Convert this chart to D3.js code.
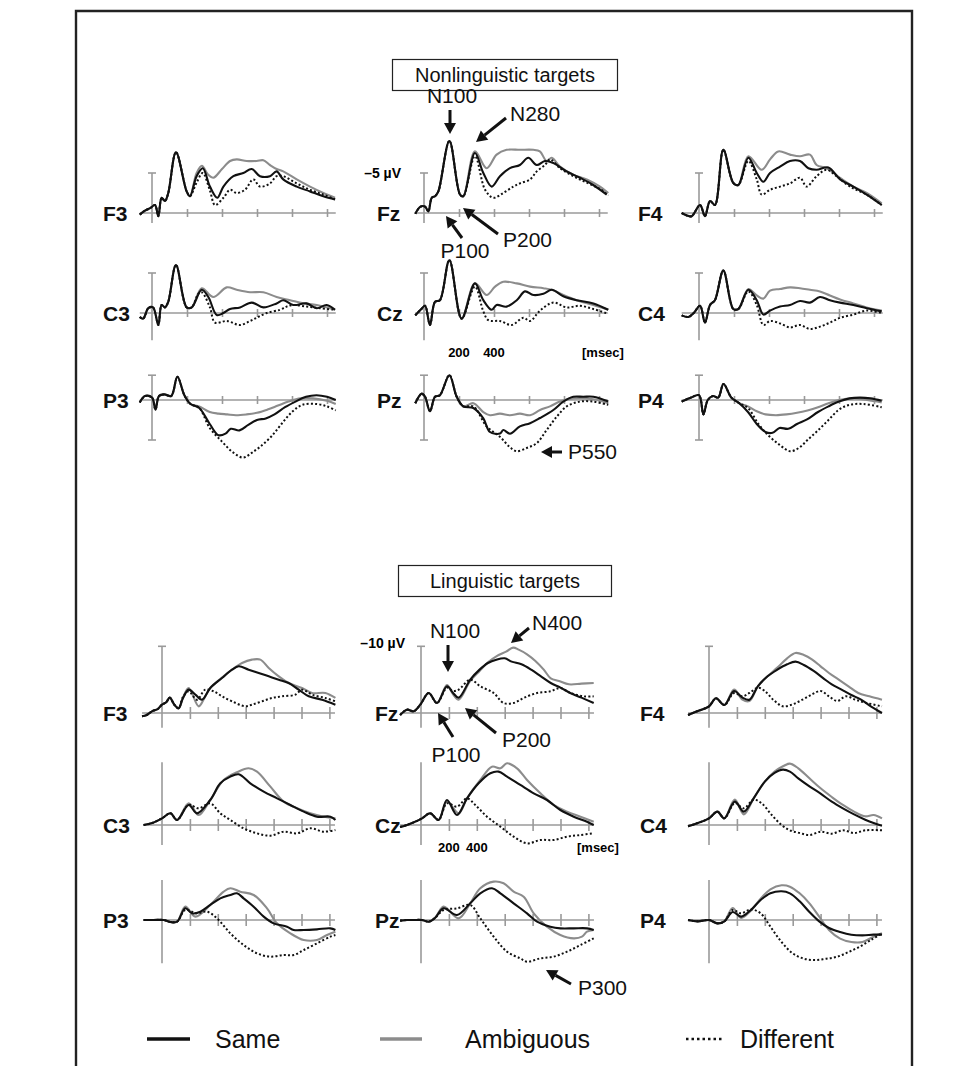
<!DOCTYPE html>
<html><head><meta charset="utf-8">
<script src="https://cdn.jsdelivr.net/npm/d3@7/dist/d3.min.js"></script>
<style>body{margin:0;background:#fff}svg{display:block}text{font-family:"Liberation Sans",Arial,sans-serif}</style>
</head><body>
<svg id="chart" width="976" height="1066"></svg>
<script>
// ---------------- DATA ----------------
const conditions = ["Same", "Ambiguous", "Different"];
const electrodeRows = [["F3", "Fz", "F4"], ["C3", "Cz", "C4"], ["P3", "Pz", "P4"]];
const panelTitles = ["Nonlinguistic targets", "Linguistic targets"];
const timeTicksTop = [200, 400, 600, 800, 1000];
const timeTicksBottom = [200, 400, 600, 800, 1000, 1200];
const timeTickLabels = [200, 400];
const scaleLabels = ["\u20135 \u00b5V", "\u201310 \u00b5V"];

// Nonlinguistic targets: [ms, µV] (negative up)
const nlF3Early = [[-70,0.2],[-40,-0.3],[-11,-0.6],[17,-1.0],[36,0.4],[55,-1.9],[74,-1.5],[93,-2.5],[137,-7.6],[198,-2.7],[217,-2.1]];
const nlF3Same = [[255,-4.6],[290,-5.6],[331,-3.3],[373,-1.9],[408,-3.3],[465,-4.6],[522,-5.0],[570,-5.5],[617,-4.6],[674,-4.6],[712,-5.2],[750,-4.2],[827,-3.3],[903,-2.7],[979,-2.1],[1046,-1.7]];
const nlF3Amb = [[255,-5.0],[285,-5.9],[320,-4.8],[350,-4.4],[400,-5.5],[446,-6.5],[484,-6.7],[541,-6.5],[598,-6.5],[636,-6.6],[674,-6.0],[712,-5.5],[750,-5.2],[827,-4.2],[903,-3.3],[979,-2.5],[1046,-1.9]];
const nlF3Diff = [[255,-3.8],[290,-5.0],[331,-2.8],[360,-1.0],[408,-1.9],[446,-2.9],[484,-2.5],[531,-2.9],[579,-4.2],[617,-3.3],[674,-3.7],[712,-4.6],[750,-4.6],[827,-3.7],[903,-2.9],[979,-2.3],[1046,-1.7]];

const nlFzEarly = [[-50,0.1],[-20,-0.8],[6,-0.8],[25,-0.2],[44,-1.9],[63,-2.1],[82,-2.7],[145,-9.0],[206,-2.3],[225,-2.1]];
const nlFzSame = [[291,-7.5],[339,-5.0],[387,-3.3],[434,-4.6],[491,-5.6],[548,-6.0],[596,-6.9],[644,-6.0],[691,-6.5],[739,-6.25],[815,-5.2],[891,-4.4],[967,-3.5],[1044,-2.3]];
const nlFzAmb = [[291,-7.7],[358,-5.6],[415,-7.3],[472,-7.9],[548,-7.9],[625,-7.9],[662,-7.7],[701,-6.5],[730,-6.9],[777,-5.8],[853,-4.8],[930,-4.2],[1006,-3.3],[1053,-2.5]];
const nlFzDiff = [[291,-7.1],[349,-2.9],[396,-1.9],[453,-2.5],[510,-3.3],[548,-3.7],[606,-4.2],[644,-5.2],[691,-6.0],[720,-6.7],[777,-5.6],[853,-4.6],[930,-3.8],[1006,-3.0],[1053,-2.2]];

const nlF4Early = [[-99,0],[-70,0.3],[-42,0.4],[6,-1.0],[34,0.4],[63,-1.5],[91,-1.0],[139,-7.9],[196,-3.75],[225,-3.5]];
const nlF4Same = [[282,-6.9],[330,-5.0],[368,-3.9],[406,-5.0],[463,-5.8],[520,-6.5],[577,-6.5],[625,-5.6],[672,-5.4],[739,-5.7],[806,-4.2],[882,-3.3],[958,-2.3],[1044,-1.0]];
const nlF4Amb = [[282,-7.1],[358,-5.4],[406,-6.7],[453,-7.7],[520,-7.3],[577,-7.1],[634,-7.3],[672,-6.0],[729,-5.6],[806,-4.4],[882,-3.3],[958,-2.5],[1044,-1.2]];
const nlF4Diff = [[282,-6.5],[330,-4.2],[358,-2.3],[406,-2.9],[463,-3.3],[520,-3.7],[577,-4.4],[615,-3.3],[672,-4.6],[729,-5.4],[786,-4.6],[863,-3.3],[958,-2.3],[1044,-1.0]];

const nlC3Early = [[-70,0.5],[-50,0.7],[-21,-0.6],[6,-0.7],[36,1.5],[55,-1.0],[74,-0.7],[93,-1.4],[137,-6.0],[198,-0.7],[227,-0.7]];
const nlC3Same = [[284,-2.9],[322,-2.0],[370,0.25],[408,0.0],[446,-0.5],[503,-0.7],[570,-1.3],[636,-0.7],[712,-1.2],[750,-1.6],[807,-1.0],[883,-1.2],[941,-0.6],[998,-1.0],[1046,-0.4]];
const nlC3Amb = [[284,-3.1],[350,-2.0],[427,-3.2],[484,-2.9],[560,-2.6],[636,-2.6],[712,-2.0],[789,-1.6],[865,-1.2],[941,-1.0],[1046,-0.4]];
const nlC3Diff = [[265,-2.4],[284,-2.6],[331,-0.7],[360,1.2],[427,1.0],[503,1.5],[560,1.0],[598,0.6],[655,0.0],[731,-0.4],[769,-0.8],[807,-1.0],[883,-0.8],[960,-0.6],[1046,-0.4]];

const nlCzEarly = [[-50,0.3],[-15,-0.5],[6,-0.9],[34,1.5],[63,-1.4],[91,-1.6],[145,-6.6],[215,0.7]];
const nlCzSame = [[291,-3.7],[339,-1.6],[387,-0.4],[415,-1.0],[472,-0.8],[530,-1.6],[577,-2.7],[625,-2.25],[682,-2.4],[730,-2.9],[796,-2.1],[872,-1.6],[968,-1.2],[1053,-0.4]];
const nlCzAmb = [[291,-3.7],[358,-2.25],[406,-3.3],[453,-3.9],[530,-3.7],[606,-3.3],[682,-3.1],[730,-2.9],[796,-2.25],[872,-1.6],[968,-1.0],[1053,-0.4]];
const nlCzDiff = [[291,-3.3],[339,-0.2],[368,0.9],[434,1.0],[501,1.5],[568,0.6],[606,1.0],[663,-0.3],[739,-1.3],[815,-0.7],[891,-0.9],[968,-0.5],[1053,0.1]];

const nlC4Early = [[-99,0.3],[-60,0.5],[-30,0.0],[6,-0.9],[34,1.2],[63,-1.0],[91,-1.6],[139,-5.3],[196,-0.5],[225,-0.5]];
const nlC4Same = [[282,-2.9],[330,-1.6],[368,0.2],[406,-0.3],[463,-0.8],[520,-1.0],[577,-1.5],[634,-1.3],[691,-2.0],[748,-1.6],[806,-1.3],[882,-1.0],[958,-0.6],[1044,-0.2]];
const nlC4Amb = [[282,-3.0],[330,-2.2],[368,-1.8],[406,-2.8],[463,-3.0],[520,-3.2],[577,-3.1],[634,-2.9],[691,-2.7],[748,-2.2],[806,-1.7],[882,-1.2],[958,-0.7],[1044,-0.3]];
const nlC4Diff = [[282,-2.7],[330,-1.0],[368,1.5],[406,1.0],[463,1.3],[520,1.8],[577,1.5],[634,2.0],[691,1.7],[748,1.2],[806,0.6],[882,0.2],[958,-0.3],[1044,0.0]];

const nlP3Early = [[-70,0.3],[-40,-0.5],[0,-0.3],[20,1.2],[40,-0.5],[70,-0.7],[110,-0.5],[145,-2.9],[185,-0.6],[220,0.5]];
const nlP3Same = [[270,1.0],[330,3.0],[380,4.4],[420,4.2],[450,3.6],[500,3.8],[550,3.1],[600,2.5],[650,2.3],[700,1.8],[760,0.9],[820,0.2],[880,-0.4],[940,-0.6],[1000,-0.4],[1050,0.0]];
const nlP3Amb = [[270,0.8],[330,1.5],[380,1.7],[430,1.8],[480,1.9],[540,1.8],[600,1.6],[660,1.2],[720,0.7],[780,0.2],[850,-0.2],[920,-0.2],[1000,0.1],[1050,0.5]];
const nlP3Diff = [[270,1.0],[330,3.5],[400,5.2],[460,6.5],[520,7.2],[570,6.6],[620,5.8],[680,4.6],[740,3.0],[800,1.5],[860,0.6],[940,0.5],[1000,0.8],[1050,1.3]];

const nlPzEarly = [[-50,0.4],[-13,-0.8],[6,-0.4],[34,1.4],[63,-0.4],[91,-0.6],[145,-3.1],[187,-0.4],[225,0.8]];
const nlPzSame = [[282,1.0],[339,2.3],[377,4.0],[434,4.2],[453,3.75],[491,4.2],[548,3.3],[606,2.9],[663,2.25],[739,1.25],[796,0.2],[853,-0.4],[910,-0.4],[968,-0.4],[1053,0.2]];
const nlPzAmb = [[282,0.4],[339,1.5],[377,1.9],[434,1.7],[491,1.9],[548,1.7],[606,1.9],[663,1.25],[720,0.8],[777,0.2],[853,-0.2],[968,-0.1],[1053,0.4]];
const nlPzDiff = [[282,0.8],[358,3.3],[434,4.6],[491,5.9],[530,6.4],[587,6.0],[644,5.4],[701,3.75],[758,2.1],[815,0.8],[891,0.2],[968,0.2],[1053,0.6]];

const nlP4Early = [[-99,0.2],[-45,-0.3],[0,-0.6],[25,1.8],[50,0.0],[80,-0.5],[110,-0.3],[140,-2.0],[185,-0.3],[230,0.4]];
const nlP4Same = [[280,1.5],[330,3.0],[380,4.0],[420,4.1],[460,3.5],[510,3.6],[560,3.0],[620,2.4],[680,1.5],[740,0.8],[800,0.2],[860,-0.2],[920,-0.3],[980,-0.2],[1044,0.1]];
const nlP4Amb = [[280,0.8],[330,1.4],[380,1.8],[440,1.9],[500,1.8],[560,1.6],[620,1.3],[680,0.9],[740,0.4],[800,0.0],[880,-0.2],[960,0.0],[1044,0.3]];
const nlP4Diff = [[280,1.0],[340,3.0],[400,4.5],[460,5.6],[520,6.4],[570,6.0],[620,5.0],[680,3.8],[740,2.5],[800,1.2],[860,0.6],[940,0.5],[1044,0.9]];

// Linguistic targets: [ms, µV] (negative up)
const lgF3Early = [[-143,0.5],[-110,0.3],[-72,-0.25],[-30,-0.6],[0,-1.25],[30,-1.6],[55,-2.3],[90,-1.2],[119,-0.7]];
const lgF3Same = [[150,-2.2],[191,-3.5],[239,-2.75],[287,-2.0],[346,-3.75],[430,-5.25],[502,-6.5],[550,-7.0],[621,-6.5],[693,-6.0],[765,-5.5],[837,-5.0],[908,-4.5],[980,-3.5],[1052,-2.5],[1147,-2.0],[1243,-1.25]];
const lgF3Amb = [[150,-2.3],[191,-3.75],[263,-1.0],[310,-2.5],[346,-3.75],[430,-5.3],[502,-6.5],[574,-7.5],[645,-8.0],[705,-8.0],[765,-6.75],[837,-5.5],[908,-4.5],[1004,-3.75],[1076,-3.0],[1171,-3.0],[1243,-2.25]];
const lgF3Diff = [[150,-2.4],[191,-3.25],[251,-2.0],[310,-3.5],[370,-3.25],[430,-2.5],[502,-1.75],[597,-1.0],[645,-1.25],[717,-1.75],[789,-2.25],[861,-2.5],[956,-2.75],[1004,-3.5],[1076,-2.75],[1171,-2.25],[1243,-1.75]];

const lgFzEarly = [[-150,0.3],[-100,-0.5],[-53,-0.25],[-5,-1.25],[55,-3.0],[115,-1.5]];
const lgFzSame = [[186,-4.0],[230,-3.0],[270,-2.3],[353,-5.0],[420,-6.5],[480,-7.5],[540,-8.0],[600,-8.2],[650,-7.7],[720,-7.3],[790,-6.5],[860,-5.5],[930,-4.5],[1000,-3.8],[1070,-3.0],[1150,-2.3],[1238,-1.5]];
const lgFzAmb = [[186,-4.2],[230,-2.8],[270,-2.0],[353,-4.8],[420,-6.3],[480,-7.6],[540,-8.5],[610,-9.2],[660,-9.8],[700,-9.5],[760,-8.8],[820,-7.8],[880,-6.5],[930,-5.2],[990,-4.8],[1060,-4.3],[1150,-4.4],[1238,-4.5]];
const lgFzDiff = [[186,-3.8],[230,-3.3],[270,-3.5],[353,-5.0],[425,-4.0],[521,-3.0],[592,-1.5],[664,-1.5],[736,-2.25],[832,-3.0],[927,-3.25],[999,-3.75],[1070,-3.0],[1166,-2.5],[1238,-2.5]];

const lgF4Early = [[-150,0.3],[-80,-0.3],[0,-1.0],[50,-2.2],[110,-1.2]];
const lgF4Same = [[180,-3.3],[240,-2.3],[290,-2.0],[350,-4.0],[420,-5.5],[490,-6.5],[560,-7.3],[620,-7.7],[680,-7.2],[750,-6.3],[820,-5.2],[880,-4.3],[950,-3.5],[1020,-2.7],[1090,-2.0],[1160,-1.0],[1240,0.0]];
const lgF4Amb = [[180,-3.5],[240,-2.0],[290,-1.8],[350,-4.0],[420,-5.5],[490,-6.8],[560,-8.2],[620,-9.0],[680,-8.7],[740,-8.0],[800,-7.0],[860,-6.0],[930,-5.0],[1000,-4.0],[1070,-3.0],[1150,-2.5],[1240,-2.0]];
const lgF4Diff = [[180,-3.0],[240,-2.5],[290,-3.0],[350,-3.8],[400,-3.3],[460,-2.0],[530,-1.0],[600,-1.3],[670,-2.0],[740,-2.8],[800,-3.3],[860,-2.5],[920,-1.8],[980,-2.5],[1050,-2.0],[1130,-1.5],[1240,-1.0]];

const lgC3Early = [[-132,0],[-70,-0.3],[0,-1.0],[60,-1.75],[108,-0.75]];
const lgC3Same = [[191,-3.0],[251,-1.75],[346,-3.75],[418,-6.25],[490,-7.25],[550,-7.6],[633,-6.25],[729,-5.0],[825,-4.0],[920,-3.0],[1016,-2.0],[1111,-1.25],[1207,-1.25],[1243,-0.75]];
const lgC3Amb = [[191,-3.25],[263,-1.5],[346,-3.75],[442,-6.75],[537,-7.9],[621,-8.5],[681,-8.0],[777,-5.75],[872,-3.5],[968,-2.5],[1063,-1.75],[1159,-1.25],[1243,-1.0]];
const lgC3Diff = [[191,-3.0],[263,-2.5],[346,-3.25],[418,-1.75],[490,-0.75],[585,0.5],[681,1.25],[777,1.6],[872,1.0],[968,1.25],[1063,0.5],[1159,1.0],[1243,0.75]];

const lgCzEarly = [[-150,0.3],[-100,0],[-41,-0.5],[7,-1.0],[66,-1.75],[126,-0.75]];
const lgCzSame = [[186,-3.75],[258,-1.5],[330,-4.0],[413,-6.25],[497,-7.75],[556,-8.0],[617,-7.25],[712,-6.0],[808,-4.75],[903,-3.75],[999,-2.25],[1095,-1.25],[1190,-0.5],[1238,0.0]];
const lgCzAmb = [[186,-3.5],[270,-1.75],[330,-4.0],[425,-6.75],[509,-8.75],[569,-8.5],[617,-9.25],[688,-8.5],[760,-6.75],[856,-4.75],[951,-3.0],[1047,-2.0],[1143,-1.25],[1238,-0.5]];
const lgCzDiff = [[186,-3.25],[258,-2.75],[330,-4.0],[389,-3.0],[473,-1.25],[569,0.25],[664,1.75],[760,2.75],[856,2.25],[951,2.25],[1047,1.75],[1143,1.5],[1238,1.25]];

const lgC4Early = [[-150,0.2],[-80,-0.3],[0,-1.0],[60,-2.0],[110,-1.0]];
const lgC4Same = [[185,-3.5],[250,-2.0],[320,-4.0],[400,-6.5],[470,-7.8],[530,-8.3],[580,-8.0],[640,-7.0],[720,-5.8],[800,-4.7],[880,-3.5],[960,-2.5],[1040,-1.6],[1120,-0.8],[1180,-0.3],[1240,0.1]];
const lgC4Amb = [[185,-3.8],[250,-1.6],[320,-4.0],[400,-6.5],[470,-8.0],[530,-8.8],[580,-9.2],[640,-8.5],[720,-7.0],[800,-5.5],[880,-4.2],[960,-3.0],[1040,-2.0],[1120,-1.3],[1180,-1.5],[1240,-1.0]];
const lgC4Diff = [[185,-3.3],[250,-2.5],[320,-3.8],[380,-3.2],[450,-1.5],[520,0.0],[580,0.8],[650,1.2],[720,1.5],[800,1.0],[880,1.3],[960,0.8],[1040,1.2],[1120,0.8],[1240,0.8]];

const lgP3Early = [[-132,0],[-60,0],[12,0],[60,0.3],[108,0.25]];
const lgP3Same = [[167,-1.75],[215,-1.0],[275,-1.25],[346,-2.25],[418,-3.25],[490,-3.75],[537,-4.0],[585,-3.25],[657,-2.0],[729,-0.5],[800,0.5],[896,1.0],[944,1.5],[1016,1.5],[1111,1.4],[1207,1.25],[1243,1.5]];
const lgP3Amb = [[167,-2.0],[239,-0.5],[346,-2.25],[442,-4.25],[490,-4.75],[561,-4.25],[657,-3.75],[753,-1.75],[824,0.5],[920,2.0],[1016,3.0],[1111,3.0],[1183,2.25],[1243,1.75]];
const lgP3Diff = [[167,-1.5],[251,-1.0],[322,-1.25],[394,-0.25],[490,2.0],[585,3.75],[681,5.0],[776,5.5],[872,5.25],[944,5.25],[1016,4.5],[1111,3.5],[1207,2.5],[1243,2.25]];

const lgPzEarly = [[-150,0.1],[-100,0],[-53,0],[7,0],[55,0.25],[100,-0.3]];
const lgPzSame = [[162,-1.75],[258,-0.75],[353,-2.5],[425,-4.0],[509,-4.75],[569,-4.0],[664,-2.5],[760,-1.0],[832,0.25],[927,1.0],[999,1.25],[1095,1.25],[1190,1.25],[1238,1.5]];
const lgPzAmb = [[162,-2.0],[270,-0.25],[353,-2.5],[425,-4.75],[521,-5.75],[592,-5.5],[664,-4.25],[736,-3.5],[808,-1.0],[903,1.0],[999,2.25],[1095,2.75],[1154,2.5],[1190,1.75],[1238,1.5]];
const lgPzDiff = [[162,-1.5],[258,-1.75],[353,-2.25],[425,-0.25],[521,2.5],[617,4.75],[712,5.75],[760,6.25],[856,5.75],[951,5.5],[1047,4.75],[1143,3.75],[1238,2.75]];

const lgP4Early = [[-150,0],[-80,0.2],[0,0.0],[60,0.5],[110,0.2]];
const lgP4Same = [[170,-1.2],[230,-0.5],[300,-1.5],[370,-3.0],[440,-4.0],[520,-4.3],[580,-4.0],[650,-2.8],[720,-1.2],[790,0.2],[860,1.2],[940,1.8],[1020,2.2],[1100,2.3],[1180,2.2],[1240,2.2]];
const lgP4Amb = [[170,-1.8],[230,-0.3],[300,-1.4],[370,-3.2],[440,-4.6],[520,-5.2],[580,-5.0],[650,-4.0],[720,-2.5],[790,-0.5],[860,1.5],[940,2.8],[1020,3.3],[1100,3.3],[1180,2.5],[1240,2.0]];
const lgP4Diff = [[170,-1.5],[230,-1.0],[300,-1.6],[370,-1.0],[440,1.0],[520,3.3],[600,5.0],[680,5.8],[760,6.0],[840,5.8],[920,5.5],[1000,4.8],[1080,4.0],[1160,3.0],[1240,2.0]];

// ---------------- LAYOUT ----------------
const nlSeries = {
  F3:[nlF3Early,nlF3Same,nlF3Amb,nlF3Diff], Fz:[nlFzEarly,nlFzSame,nlFzAmb,nlFzDiff], F4:[nlF4Early,nlF4Same,nlF4Amb,nlF4Diff],
  C3:[nlC3Early,nlC3Same,nlC3Amb,nlC3Diff], Cz:[nlCzEarly,nlCzSame,nlCzAmb,nlCzDiff], C4:[nlC4Early,nlC4Same,nlC4Amb,nlC4Diff],
  P3:[nlP3Early,nlP3Same,nlP3Amb,nlP3Diff], Pz:[nlPzEarly,nlPzSame,nlPzAmb,nlPzDiff], P4:[nlP4Early,nlP4Same,nlP4Amb,nlP4Diff]
};
const lgSeries = {
  F3:[lgF3Early,lgF3Same,lgF3Amb,lgF3Diff], Fz:[lgFzEarly,lgFzSame,lgFzAmb,lgFzDiff], F4:[lgF4Early,lgF4Same,lgF4Amb,lgF4Diff],
  C3:[lgC3Early,lgC3Same,lgC3Amb,lgC3Diff], Cz:[lgCzEarly,lgCzSame,lgCzAmb,lgCzDiff], C4:[lgC4Early,lgC4Same,lgC4Amb,lgC4Diff],
  P3:[lgP3Early,lgP3Same,lgP3Amb,lgP3Diff], Pz:[lgPzEarly,lgPzSame,lgPzAmb,lgPzDiff], P4:[lgP4Early,lgP4Same,lgP4Amb,lgP4Diff]
};

const layouts = [
  { series: nlSeries, axisX:[152,424,699], base:[213,313,400], labelX:[103,377,638],
    pxPerMs:0.175, pxPerUv:8, t1:1050, ticks:timeTicksTop, tickLen:4,
    bar:[[-5,1.25,true,false],[-5,3.4,true,false],[-3.1,5,true,true]] },
  { series: lgSeries, axisX:[162,421,709], base:[713,825,920], labelX:[103,375,640],
    pxPerMs:0.1395, pxPerUv:6.67, t1:1240, ticks:timeTicksBottom, tickLen:6,
    bar:[[-10,2.2,true,false],[-9.4,3,false,false],[-6,6.5,false,false]] }
];

const svg = d3.select("#chart");
const AX = "#9a9a9a";
const styles = [
  { stroke:"#111", width:2.1, dash:null },
  { stroke:"#8c8c8c", width:2.1, dash:null },
  { stroke:"#111", width:2.0, dash:"2,2.2" }
];

// frame
svg.append("path").attr("d","M76,1066 V11 H912 V1066").attr("fill","none").attr("stroke","#222").attr("stroke-width",2.4);

layouts.forEach((L) => {
  electrodeRows.forEach((row, ri) => {
    row.forEach((name, ci) => {
      const ax = L.axisX[ci], base = L.base[ri];
      const x = d3.scaleLinear().domain([0, 1000]).range([ax, ax + 1000 * L.pxPerMs]);
      const y = d3.scaleLinear().domain([0, 10]).range([base, base + 10 * L.pxPerUv]);
      const g = svg.append("g");
      const s = L.series[name];
      const early = s[0];
      const t0 = early[0][0];
      // baseline axis with ticks crossing the baseline
      const xs = d3.scaleLinear().domain([t0, L.t1]).range([x(t0), x(L.t1)]);
      const xAxis = d3.axisBottom(xs).tickValues(L.ticks).tickSize(2 * L.tickLen).tickSizeOuter(0).tickFormat("");
      const ag = g.append("g").attr("transform", `translate(0,${base - L.tickLen})`).call(xAxis);
      ag.select(".domain").attr("d", `M${xs(t0)},${L.tickLen}H${xs(L.t1)}`).attr("stroke", AX).attr("stroke-width", 1.6);
      ag.selectAll(".tick line").attr("stroke", AX).attr("stroke-width", 1.6);
      // vertical scale bar
      const [vTop, vBot, capTop, capBot] = L.bar[ri];
      g.append("line").attr("x1", x(0)).attr("x2", x(0)).attr("y1", y(vTop)).attr("y2", y(vBot)).attr("stroke", AX).attr("stroke-width", 1.6);
      if (capTop) g.append("line").attr("x1", x(0) - 4).attr("x2", x(0) + 4).attr("y1", y(vTop)).attr("y2", y(vTop)).attr("stroke", AX).attr("stroke-width", 1.6);
      if (capBot) g.append("line").attr("x1", x(0) - 4).attr("x2", x(0) + 4).attr("y1", y(vBot)).attr("y2", y(vBot)).attr("stroke", AX).attr("stroke-width", 1.6);
      // waveforms: ambiguous, then different, then same on top
      const line = d3.line().x(d => x(d[0])).y(d => y(d[1])).curve(d3.curveCatmullRom.alpha(0.5));
      [1, 2, 0].forEach(k => {
        const data = early.concat(s[k + 1]);
        const st = styles[k];
        const p = g.append("path").datum(data).attr("d", line).attr("fill", "none")
          .attr("stroke", st.stroke).attr("stroke-width", st.width).attr("stroke-linejoin", "round");
        if (st.dash) p.attr("stroke-dasharray", st.dash);
      });
      // electrode label
      g.append("text").attr("x", L.labelX[ci]).attr("y", base + 8).attr("font-size", 21).attr("font-weight", "bold").attr("fill", "#111").text(name);
    });
  });
});

// titles
[[505, 75, 225], [505, 581, 213]].forEach((t, i) => {
  svg.append("rect").attr("x", t[0] - t[2] / 2).attr("y", t[1] - 15.5).attr("width", t[2]).attr("height", 31)
    .attr("fill", "#fff").attr("stroke", "#222").attr("stroke-width", 1.2);
  svg.append("text").attr("x", t[0]).attr("y", t[1] + 7).attr("text-anchor", "middle").attr("font-size", 20).attr("fill", "#111").text(panelTitles[i]);
});

// scale labels
svg.append("text").attr("x", 401).attr("y", 178).attr("text-anchor", "end").attr("font-size", 14).attr("font-weight", "bold").text(scaleLabels[0]);
svg.append("text").attr("x", 405).attr("y", 648).attr("text-anchor", "end").attr("font-size", 14).attr("font-weight", "bold").text(scaleLabels[1]);

// time labels below Cz
[[424, 0.175, 357, 582], [421, 0.1395, 852, 577]].forEach(c => {
  timeTickLabels.forEach(v => {
    svg.append("text").attr("x", c[0] + v * c[1]).attr("y", c[2]).attr("text-anchor", "middle").attr("font-size", 13).attr("font-weight", "bold").text(v);
  });
  svg.append("text").attr("x", c[3]).attr("y", c[2]).attr("font-size", 13).attr("font-weight", "bold").text("[msec]");
});

// annotations: text, text x, text y, anchor, arrow tail, arrow tip
const annotations = [
  ["N100", 452, 103, "middle", [450, 110], [450, 134]],
  ["N280", 510, 121, "start", [506, 118], [476, 142]],
  ["P100", 465, 258, "middle", [462, 238], [446, 216]],
  ["P200", 503, 247, "start", [498, 234], [463, 208]],
  ["P550", 568, 459, "start", [562, 452], [541, 452]],
  ["N100", 455, 638, "middle", [448, 645], [448, 672]],
  ["N400", 532, 630, "start", [529, 628], [511, 643]],
  ["P100", 456, 762, "middle", [453, 737], [438, 713]],
  ["P200", 502, 747, "start", [496, 733], [465, 708]],
  ["P300", 578, 995, "start", [571, 984], [546, 970]]
];
annotations.forEach(a => {
  svg.append("text").attr("x", a[1]).attr("y", a[2]).attr("text-anchor", a[3]).attr("font-size", 21).attr("fill", "#111").text(a[0]);
  const [tx, ty] = a[4], [hx, hy] = a[5];
  const ang = Math.atan2(hy - ty, hx - tx);
  const hl = 11, hw = 6;
  const bx = hx - hl * Math.cos(ang), by = hy - hl * Math.sin(ang);
  svg.append("line").attr("x1", tx).attr("y1", ty).attr("x2", bx).attr("y2", by).attr("stroke", "#111").attr("stroke-width", 3);
  const px = -Math.sin(ang) * hw, py = Math.cos(ang) * hw;
  svg.append("path").attr("d", `M${hx},${hy}L${bx + px},${by + py}L${bx - px},${by - py}Z`).attr("fill", "#111");
});

// legend
const legendX = [[147, 190, 215], [380, 422, 465], [686, 722, 740]];
conditions.forEach((c, i) => {
  const st = styles[i];
  const l = svg.append("line").attr("x1", legendX[i][0]).attr("x2", legendX[i][1]).attr("y1", 1039).attr("y2", 1039)
    .attr("stroke", st.stroke).attr("stroke-width", i === 2 ? 2.5 : 3.5);
  if (st.dash) l.attr("stroke-dasharray", "2.5,3");
  svg.append("text").attr("x", legendX[i][2]).attr("y", 1048).attr("font-size", 25).attr("fill", "#111").text(c);
});
</script>
</body></html>
